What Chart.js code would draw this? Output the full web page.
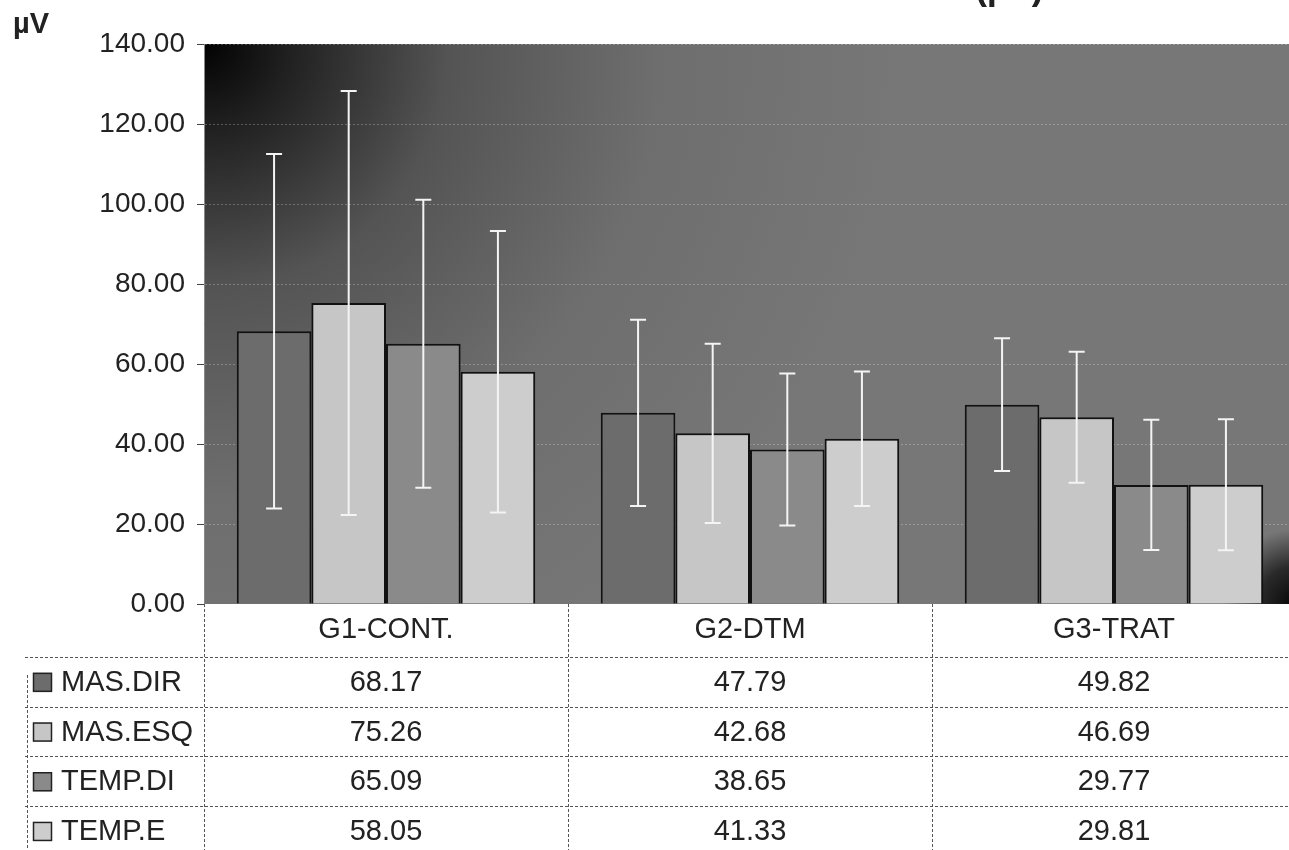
<!DOCTYPE html>
<html lang="pt">
<head>
<meta charset="UTF-8">
<title>EMG (µV)</title>
<script src="https://cdn.jsdelivr.net/npm/chart.js"></script>
<style>
  html, body { margin: 0; padding: 0; background: #fff; overflow: hidden; }
  .wrap { position: relative; width: 1289px; height: 850px; overflow: hidden; }
  canvas { display: block; }
</style>
</head>
<body>
<div class="wrap"><canvas id="emgChart" width="1300" height="850"></canvas></div>

<script>
// group names and series
const categories = ['G1-CONT.', 'G2-DTM', 'G3-TRAT'];
const seriesNames = ['MAS.DIR', 'MAS.ESQ', 'TEMP.DI', 'TEMP.E'];

// means (from the data table)
const masDir = [68.17, 47.79, 49.82];
const masEsq = [75.26, 42.68, 46.69];
const tempDi = [65.09, 38.65, 29.77];
const tempE  = [58.05, 41.33, 29.81];

// standard deviations
const masDirSD = [44.3, 23.3, 16.6];
const masEsqSD = [53.0, 22.4, 16.4];
const tempDiSD = [36.0, 19.0, 16.3];
const tempESD  = [35.2, 16.8, 16.4];

const yMax = 140;
const yStep = 20;

const barColors = ['#6c6c6c', '#c6c6c6', '#8a8a8a', '#cdcdcd'];
const allValues = [masDir, masEsq, tempDi, tempE];
const allSD = [masDirSD, masEsqSD, tempDiSD, tempESD];

const FONT = '"Liberation Sans", Arial, sans-serif';
const TEXT = '#222';

// gradient backdrop behind the plot
const backdrop = {
  id: 'backdrop',
  beforeDraw(chart) {
    const { ctx, chartArea: a } = chart;
    ctx.save();
    const g = ctx.createRadialGradient(a.left, a.top, 0, a.left, a.top, 700);
    g.addColorStop(0, '#020202');
    g.addColorStop(0.12, '#202020');
    g.addColorStop(0.35, '#545454');
    g.addColorStop(0.65, '#6e6e6e');
    g.addColorStop(1, '#777777');
    ctx.fillStyle = g;
    ctx.fillRect(a.left, a.top, a.right - a.left, a.bottom - a.top);
    const c = ctx.createRadialGradient(a.right, a.bottom, 0, a.right, a.bottom, 75);
    c.addColorStop(0, 'rgba(0,0,0,0.95)');
    c.addColorStop(0.5, 'rgba(0,0,0,0.65)');
    c.addColorStop(1, 'rgba(0,0,0,0)');
    ctx.fillStyle = c;
    ctx.fillRect(a.right - 80, a.bottom - 80, 80, 80);
    ctx.restore();
  }
};

// white SD whiskers
const errorBars = {
  id: 'errorBars',
  afterDatasetsDraw(chart) {
    const { ctx, scales: { y } } = chart;
    ctx.save();
    ctx.strokeStyle = '#f4f4f4';
    ctx.lineWidth = 2;
    chart.data.datasets.forEach((ds, d) => {
      chart.getDatasetMeta(d).data.forEach((bar, i) => {
        const m = allValues[d][i], sd = allSD[d][i];
        const top = y.getPixelForValue(m + sd);
        const bot = y.getPixelForValue(m - sd);
        ctx.beginPath();
        ctx.moveTo(bar.x, top); ctx.lineTo(bar.x, bot);
        ctx.moveTo(bar.x - 8, top); ctx.lineTo(bar.x + 8, top);
        ctx.moveTo(bar.x - 8, bot); ctx.lineTo(bar.x + 8, bot);
        ctx.stroke();
      });
    });
    ctx.restore();
  }
};

// Excel style data table under the axis + unit label
const dataTable = {
  id: 'dataTable',
  afterDraw(chart) {
    const { ctx, chartArea: a, scales: { x } } = chart;
    const W = chart.width, H = chart.height;
    const rowH = 49.7;
    const headBottom = a.bottom + 53;
    const catW = (a.right - a.left) / categories.length;

    ctx.save();
    ctx.strokeStyle = '#555';
    ctx.lineWidth = 1;
    ctx.setLineDash([3, 2]);

    // horizontal rules
    for (let r = 0; r < seriesNames.length; r++) {
      const yy = Math.round(headBottom + r * rowH) + 0.5;
      ctx.beginPath(); ctx.moveTo(25, yy); ctx.lineTo(W, yy); ctx.stroke();
    }
    // column rules
    for (let i = 0; i <= categories.length; i++) {
      const xx = Math.round(a.left + i * catW) + 0.5;
      ctx.beginPath(); ctx.moveTo(xx, a.bottom); ctx.lineTo(xx, H); ctx.stroke();
    }
    ctx.beginPath(); ctx.moveTo(27.5, headBottom + 18); ctx.lineTo(27.5, H); ctx.stroke();
    ctx.setLineDash([]);

    ctx.textBaseline = 'middle';
    ctx.font = '29px ' + FONT;
    seriesNames.forEach((name, r) => {
      const cy = headBottom + r * rowH + rowH / 2;
      // legend key
      ctx.fillStyle = barColors[r];
      ctx.fillRect(33, cy - 9, 19, 19);
      ctx.strokeStyle = '#222';
      ctx.lineWidth = 1.5;
      ctx.strokeRect(33.5, cy - 8.5, 18, 18);
      ctx.fillStyle = TEXT;
      ctx.textAlign = 'left';
      ctx.fillText(name, 61, cy + 1);
      ctx.textAlign = 'center';
      allValues[r].forEach((v, i) => {
        ctx.fillText(v.toFixed(2), x.getPixelForValue(i), cy + 1);
      });
    });

    // unit label
    ctx.textAlign = 'left';
    ctx.textBaseline = 'alphabetic';
    ctx.font = 'bold 29px ' + FONT;
    ctx.fillText('µV', 13, 33);
    // title cut off at the top edge of the scan
    ctx.font = 'bold 36px ' + FONT;
    ctx.fillText('(µV)', 975, -1);
    ctx.restore();
  }
};

new Chart(document.getElementById('emgChart'), {
  type: 'bar',
  data: {
    labels: categories,
    datasets: seriesNames.map((name, d) => ({
      label: name,
      data: allValues[d],
      backgroundColor: barColors[d],
      borderColor: '#111',
      borderWidth: 2,
      barPercentage: 1,
      categoryPercentage: 0.82
    }))
  },
  options: {
    responsive: false,
    animation: false,
    layout: { padding: { top: 44, right: 4, left: 0, bottom: 0 } },
    plugins: { legend: { display: false }, tooltip: { enabled: false } },
    scales: {
      x: {
        grid: { display: false, drawTicks: false },
        border: { display: false },
        ticks: { color: TEXT, font: { family: FONT, size: 29 }, padding: 9 },
        afterFit: s => { s.height = 246; }
      },
      y: {
        min: 0,
        max: yMax,
        ticks: {
          stepSize: yStep,
          color: TEXT,
          font: { family: FONT, size: 28 },
          padding: 12,
          callback: v => v.toFixed(2)
        },
        grid: { color: 'rgba(255,255,255,0.25)', tickColor: '#444', tickLength: 7 },
        border: { display: true, color: '#888', dash: [2, 2] },
        afterFit: s => { s.width = 204; }
      }
    }
  },
  plugins: [backdrop, errorBars, dataTable]
});
</script>
</body>
</html>
